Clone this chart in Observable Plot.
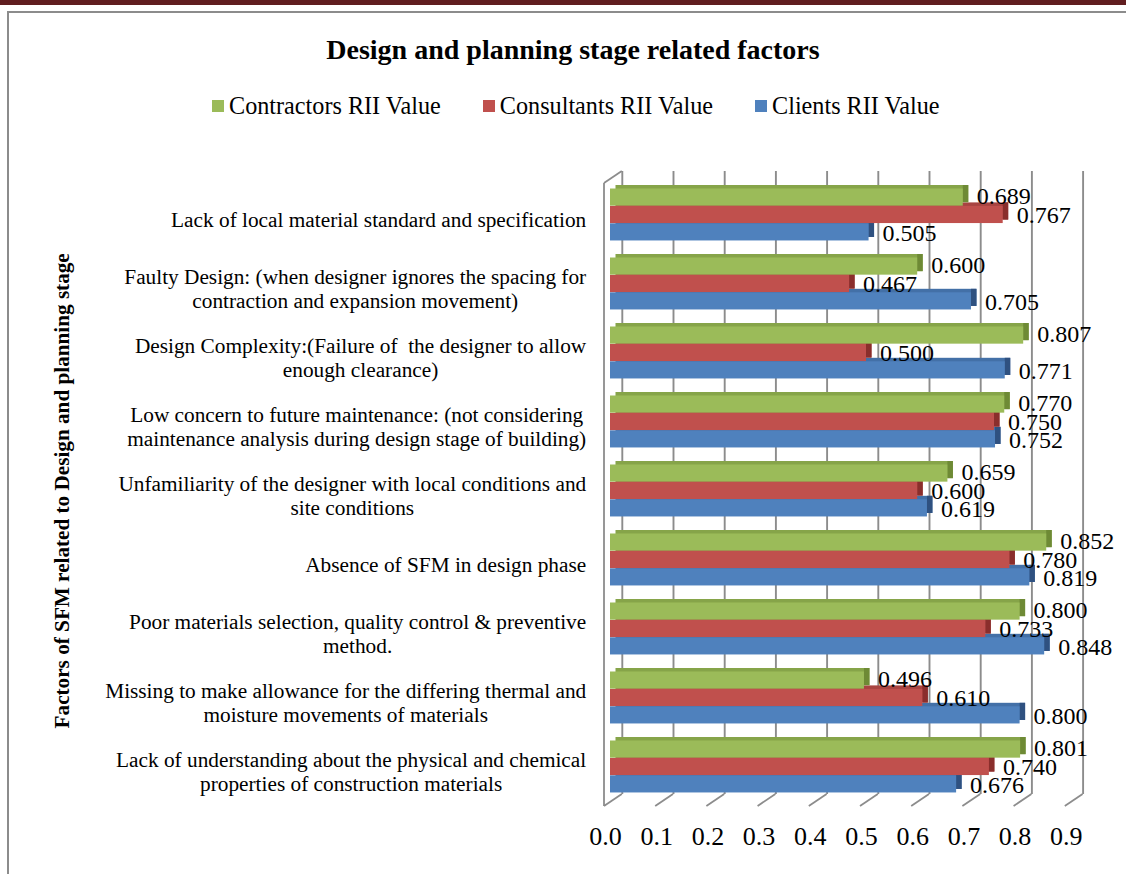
<!DOCTYPE html>
<html>
<head>
<meta charset="utf-8">
<script src="https://cdn.jsdelivr.net/npm/d3@7"></script>
<script src="https://cdn.jsdelivr.net/npm/@observablehq/plot@0.6"></script>
<style>
html,body{margin:0;padding:0;background:#fff;}
#page{position:relative;width:1126px;height:874px;overflow:hidden;font-family:"Liberation Serif","Times New Roman",serif;color:#000;}
#band{position:absolute;left:0;top:0;width:1126px;height:5px;background:#611e20;}
#frame{position:absolute;left:7px;top:11px;width:1200px;height:900px;border-left:2px solid #8c8c8c;border-top:2px solid #8c8c8c;}
#title{position:absolute;left:0;width:1146px;top:34px;line-height:32px;text-align:center;font-weight:bold;font-size:28px;}
#legend{position:absolute;left:212px;top:92px;height:28px;display:flex;align-items:center;font-size:24.2px;white-space:nowrap;}
.item{display:flex;align-items:center;margin-right:42px;}
.sw{width:12px;height:12px;margin-right:5px;}
#chart{position:absolute;left:0;top:140px;}
#chart svg{overflow:visible;}
</style>
</head>
<body>
<div id="page">
  <div id="band"></div>
  <div id="frame"></div>
  <div id="title"></div>
  <div id="legend"></div>
  <div id="chart"></div>
</div>
<script>
// ---------- data ----------
const chartTitle = "Design and planning stage related factors";
const yTitle = "Factors of SFM related to Design and planning stage";
const categories = [
  "Lack of local material standard and specification",
  "Faulty Design: (when designer ignores the spacing for\ncontraction and expansion movement)",
  "Design Complexity:(Failure of  the designer to allow\nenough clearance)",
  "Low concern to future maintenance: (not considering\nmaintenance analysis during design stage of building)",
  "Unfamiliarity of the designer with local conditions and\nsite conditions",
  "Absence of SFM in design phase",
  "Poor materials selection, quality control & preventive\nmethod.",
  "Missing to make allowance for the differing thermal and\nmoisture movements of materials",
  "Lack of understanding about the physical and chemical\nproperties of construction materials"
];
const seriesNames = ["Contractors RII Value", "Consultants RII Value", "Clients RII Value"];
const contractors = [0.689, 0.600, 0.807, 0.770, 0.659, 0.852, 0.800, 0.496, 0.801];
const consultants = [0.767, 0.467, 0.500, 0.750, 0.600, 0.780, 0.733, 0.610, 0.740];
const clients     = [0.505, 0.705, 0.771, 0.752, 0.619, 0.819, 0.848, 0.800, 0.676];
const xTicks = [0, 0.1, 0.2, 0.3, 0.4, 0.5, 0.6, 0.7, 0.8, 0.9];

// ---------- styles ----------
const frontColors = ["#9bbb59", "#c0504d", "#4f81bd"];
const topColors   = ["#86a449", "#a84441", "#4370a7"];
const sideColors  = ["#6e8a35", "#8a2e2c", "#2f5180"];

// ---------- header ----------
document.getElementById("title").textContent = chartTitle;
const legend = d3.select("#legend");
seriesNames.forEach((s, i) => {
  const it = legend.append("div").attr("class", "item");
  it.append("div").attr("class", "sw").style("background", frontColors[i]);
  it.append("span").text(s);
});

// ---------- table ----------
const seriesValues = [contractors, consultants, clients];
const rows = seriesNames.flatMap((s, i) =>
  categories.map((c, j) => ({category: c, series: s, si: i, value: seriesValues[i][j]})));

// ---------- layout ----------
const W = 1126, H = 734;
const mL = 610, mR = 55.2, mT = 39.2, mB = 71.6;
const step = (H - mT - mB) / categories.length;
const pad = 8.5, barH = 17.4;
const depthX = 5.5, depthY = -3.5;
const catFont = 21.3;

const ctx = document.createElement("canvas").getContext("2d");
ctx.font = catFont + "px 'Liberation Serif'";
const labelRight = 585.7;

function floorMark(index, scales, values, dims) {
  const x = scales.x;
  const yB = dims.height - dims.marginBottom;
  const yT = dims.marginTop;
  const g = d3.create("svg:g").attr("fill", "none").attr("stroke", "#8c8c8c").attr("stroke-width", 1.8);
  for (const v of xTicks) {
    g.append("line").attr("x1", x(v) - 6).attr("y1", yB + 3.6).attr("x2", x(v) + 11.8).attr("y2", yB - 8.4);
  }
  g.append("line").attr("x1", x(0) - 6).attr("y1", yT + 3.8).attr("x2", x(0) - 6).attr("y2", yB + 3.6);
  g.append("line").attr("x1", x(0) - 6).attr("y1", yT + 3.8).attr("x2", x(0) + 11.8).attr("y2", yT - 8.2);
  return g.node();
}

const marks = [];
marks.push(Plot.ruleX(xTicks, {x: d => d, stroke: "#8c8c8c", strokeWidth: 1.9, dx: 11.8, insetTop: -8.2, insetBottom: 8.4}));
marks.push(floorMark);

for (const i of [2, 1, 0]) {
  const data = rows.filter(r => r.si === i);
  const t = pad + i * barH;
  const b = step - t - barH;
  marks.push(Plot.barX(data, {x: "value", y: "category", fill: topColors[i], insetTop: t, insetBottom: b, dx: depthX, dy: depthY}));
  marks.push(Plot.barX(data, {x1: "value", x2: "value", y: "category", fill: sideColors[i], insetTop: t, insetBottom: b, insetRight: -depthX, dy: depthY}));
  marks.push(Plot.barX(data, {x: "value", y: "category", fill: frontColors[i], insetTop: t, insetBottom: b}));
}
for (let i = 0; i < 3; i++) {
  const data = rows.filter(r => r.si === i);
  const center = pad + i * barH + barH / 2;
  marks.push(Plot.text(data, {x: "value", y: "category", text: d => d.value.toFixed(3), textAnchor: "start",
    dx: 13.5, dy: center - step / 2 + (i === 0 ? -1.5 : 0.5), fontSize: 24, fill: "#000"}));
}
categories.forEach(c => {
  const maxW = d3.max(c.split("\n"), l => ctx.measureText(l).width);
  const cx = labelRight - maxW / 2;
  marks.push(Plot.text([c], {y: d => d, text: d => d, frameAnchor: "left", textAnchor: "middle",
    dx: cx - mL, dy: 4, lineHeight: 1.12, fontSize: catFont, fill: "#000"}));
});
marks.push(Plot.text([yTitle], {text: d => d, frameAnchor: "left", textAnchor: "middle", dx: 61.7 - mL, dy: -0.5, rotate: -90,
  fontSize: 21.2, fontWeight: "bold", fill: "#000"}));
marks.push(Plot.text(xTicks, {x: d => d, text: d => d.toFixed(1), frameAnchor: "bottom", dx: -5, dy: 42.5,
  fontSize: 26, fill: "#000"}));

const chart = Plot.plot({
  width: W, height: H,
  marginLeft: mL, marginRight: mR, marginTop: mT, marginBottom: mB,
  x: {domain: [0, 0.9], axis: null},
  y: {type: "band", domain: categories, padding: 0, axis: null},
  style: {fontFamily: "'Liberation Serif', 'Times New Roman', serif", background: "transparent", color: "#000", overflow: "visible"},
  marks
});
document.getElementById("chart").appendChild(chart);
</script>
</body>
</html>
